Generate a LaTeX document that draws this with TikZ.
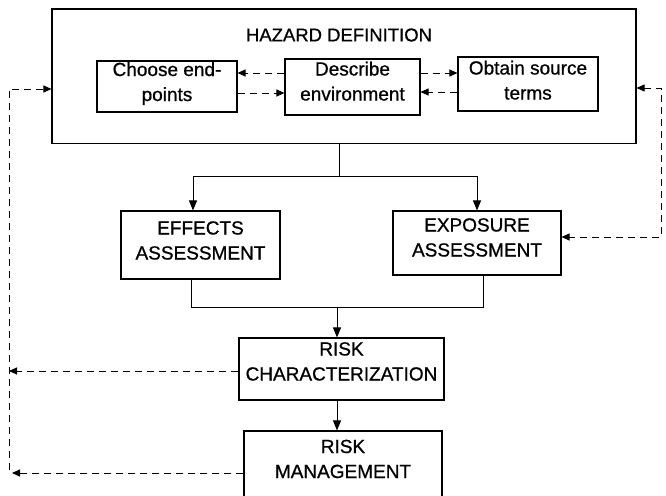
\documentclass[tikz,border=0pt]{standalone}
\usepackage{fontspec}
\setmainfont{Liberation Sans}[RawFeature={embolden=0.8}]
\usetikzlibrary{arrows.meta}
\newcommand\boxtxt[2]{\raisebox{#1}[\height][\depth]{\begin{tabular}{@{}c@{}}#2\end{tabular}}}
\begin{document}
\begin{tikzpicture}[x=1pt,y=-1pt,
  box/.style={draw,line width=1.1pt,inner sep=0pt,font=\fontsize{19}{25}\selectfont},
  conn/.style={line width=1pt},
  dsh/.style={line width=1pt,dash pattern=on 7pt off 5pt},
  stip/.style={-{Triangle[length=10pt,width=8pt]}},
  dtip/.style={-{Triangle[length=8pt,width=7pt]}},
  dtips/.style={{Triangle[length=8pt,width=7pt]}-{Triangle[length=8pt,width=7pt]}}]
\clip (0,0) rectangle (666,495);
\fill[white] (0,0) rectangle (666,495);

% hazard definition block
\node[draw,line width=1.1pt,inner sep=0pt,minimum width=584pt,minimum height=134.5pt] (haz) at (344,76.25) {};
\node[font=\fontsize{18.5}{22}\selectfont,inner sep=0pt] (title) at (339,35) {HAZARD DEFINITION};
\node[box,minimum width=140pt,minimum height=51pt] (choose) at (167,86.5) {\boxtxt{3pt}{Choose end-\\points}};
\node[box,minimum width=135pt,minimum height=56pt] (describe) at (352.5,87) {\boxtxt{4pt}{Describe\\environment}};
\node[box,minimum width=140pt,minimum height=54pt] (obtain) at (528,84) {\boxtxt{2pt}{Obtain source\\terms}};

% assessments
\node[box,minimum width=159pt,minimum height=68pt] (eff) at (200.5,245) {\boxtxt{3pt}{EFFECTS\\ASSESSMENT}};
\node[box,minimum width=168pt,minimum height=64pt] (exp) at (477,243) {\boxtxt{4pt}{EXPOSURE\\ASSESSMENT}};

% risk
\node[box,minimum width=205pt,minimum height=62pt] (rc) at (341.5,369) {\boxtxt{6pt}{RISK\\CHARACTERIZATION}};
\node[box,minimum width=198pt,minimum height=69pt] (rm) at (343,465.5) {\boxtxt{5pt}{RISK\\MANAGEMENT}};

% junction coordinates
\coordinate (split) at (339,176);
\coordinate (effin) at (193,176);
\coordinate (expin) at (477,176);
\coordinate (j1) at (191,307);
\coordinate (j2) at (483,307);
\coordinate (j3) at (337,307);
\coordinate (Ltop) at (9,89);
\coordinate (Lbot) at (9,470);
\coordinate (Lrc) at (9,371);
\coordinate (Lrm) at (12,473);
\coordinate (Rtop) at (661,88);
\coordinate (Rbot) at (661,237);

% solid connectors
\draw[conn] (haz.south -| split) -- (split);
\draw[conn] (effin) -- (expin);
\draw[conn,stip] (effin) -- (eff.north -| effin);
\draw[conn,stip] (expin) -- (exp.north -| expin);
\draw[conn] (eff.south -| j1) -- (j1) -- (j2) -- (exp.south -| j2);
\draw[conn,stip] (j3) -- (rc.north -| j3);
\draw[conn,stip] (rc.south -| j3) -- (rm.north -| j3);

% dashed connectors inside hazard block
\draw[dsh,dtip] (describe.west |- 0,73) -- (choose.east |- 0,73);
\draw[dsh,dtip] (choose.east |- 0,93) -- (describe.west |- 0,93);
\draw[dsh,dtip] (describe.east |- 0,73) -- (obtain.west |- 0,73);
\draw[dsh,dtip] (obtain.west |- 0,92) -- (describe.east |- 0,92);

% feedback loops
\draw[dsh,dtip] (rc.west |- Lrc) -- (Lrc);
\draw[dsh,dtip] (rm.west |- Lrm) -- (Lrm);
\draw[dsh,dtip] (Lbot) -- (Ltop) -- (haz.west |- Ltop);
\draw[dsh,dtips] (haz.east |- Rtop) -- (Rtop) -- (Rbot) -- (exp.east |- Rbot);
\end{tikzpicture}
\end{document}
